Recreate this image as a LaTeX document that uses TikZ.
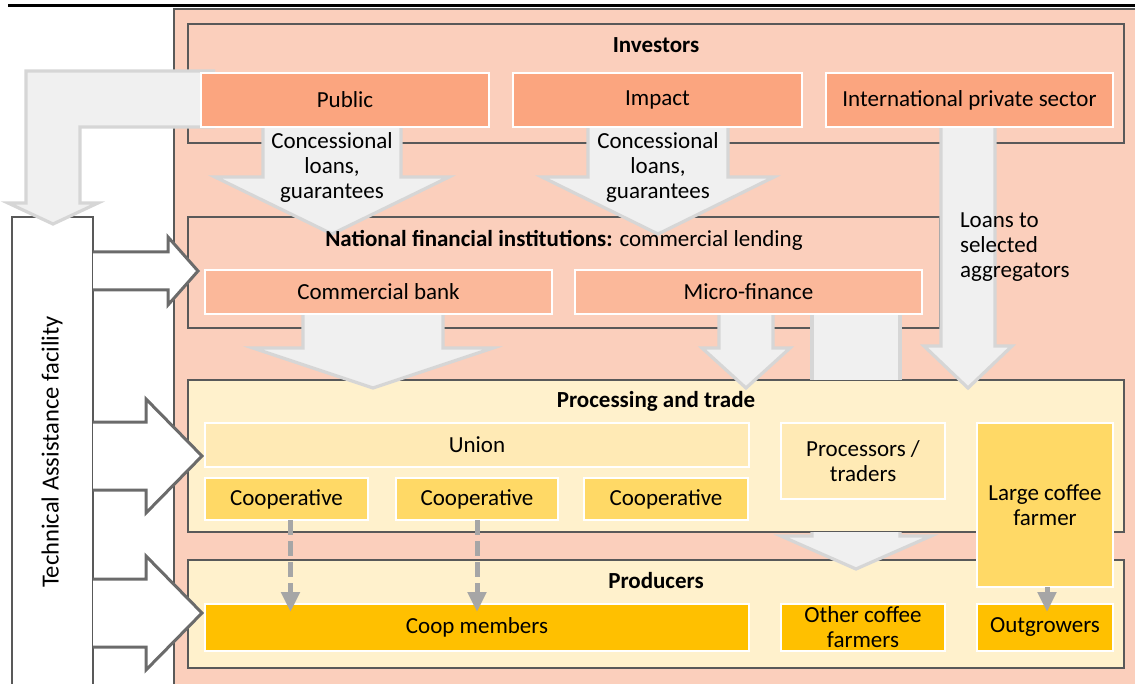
\documentclass[tikz,border=0pt]{standalone}
\usepackage{fontspec}
\setmainfont{Carlito}
\usetikzlibrary{arrows.meta}

\definecolor{PinkBg}{HTML}{FBCFBC}
\definecolor{InvFill}{HTML}{FBA57F}
\definecolor{BankFill}{HTML}{FBB89A}
\definecolor{ProcBg}{HTML}{FFF1CC}
\definecolor{UnionFill}{HTML}{FFEAB5}
\definecolor{CoopFill}{HTML}{FFD966}
\definecolor{ProdFill}{HTML}{FFC000}
\definecolor{ArrowFill}{HTML}{F0F0F0}
\definecolor{ArrowLine}{HTML}{D6D6D6}
\definecolor{FrameLine}{HTML}{595959}
\definecolor{TALine}{HTML}{6B6B6B}
\definecolor{DashGray}{HTML}{A6A6A6}

% cx, top, half shaft, wing y, half wing, tip y
\newcommand{\downblock}[6]{%
  \fill[ArrowFill] (#1-#3,#2) -- (#1-#3,#4) -- (#1-#5,#4) -- (#1,#6) -- (#1+#5,#4) -- (#1+#3,#4) -- (#1+#3,#2) -- cycle;
  \draw[blockline] (#1-#3,#2) -- (#1-#3,#4) -- (#1-#5,#4) -- (#1,#6) -- (#1+#5,#4) -- (#1+#3,#4) -- (#1+#3,#2);}
% cy, left, half shaft, base x, half wing, tip x
\newcommand{\rightblock}[6]{%
  \fill[white] (#2,#1-#3) -- (#4,#1-#3) -- (#4,#1-#5) -- (#6,#1) -- (#4,#1+#5) -- (#4,#1+#3) -- (#2,#1+#3) -- cycle;
  \draw[taline] (#2,#1-#3) -- (#4,#1-#3) -- (#4,#1-#5) -- (#6,#1) -- (#4,#1+#5) -- (#4,#1+#3) -- (#2,#1+#3);}

\begin{document}
\begin{tikzpicture}[x=0.5pt, y=-0.5pt,
  every node/.style={font=\fontsize{11.5}{12.5}\selectfont, inner sep=0pt, outer sep=0pt},
  sz/.style 2 args={minimum width=#1*0.5pt, minimum height=#2*0.5pt},
  frame/.style={draw=FrameLine, line width=0.75pt},
  inner/.style={draw=white, line width=0.6pt},
  title/.style={font=\fontsize{11.5}{12.5}\selectfont\bfseries},
  blockline/.style={draw=ArrowLine, line width=1.6pt},
  taline/.style={draw=TALine, line width=1.5pt},
  dasharr/.style={draw=DashGray, line width=2.5pt, dash pattern=on 7.5pt off 3pt,
    -{Triangle[length=10pt, width=9pt]}},
  solidarr/.style={draw=DashGray, line width=2.5pt, -{Triangle[length=10pt, width=9pt]}}]
  \useasboundingbox (0,0) rectangle (1135,684);

  % background
  \draw[fill=PinkBg, draw=FrameLine, line width=0.75pt] (174,9) rectangle (1145,695);
  \draw[line width=1.5pt] (8,6) -- (1140,6);
  \node[draw=FrameLine, line width=0.75pt, fill=white, sz={81}{480}] (ta) at (52.5,457) {};

  % frames
  \node[frame, sz={936}{119}] (inv) at (656,83.5) {};
  \node[frame, sz={752}{111}] (nfi) at (564,272.5) {};
  \node[frame, fill=ProcBg, sz={936}{152}] (proc) at (656,456) {};
  \node[frame, fill=ProcBg, sz={936}{108}] (prod) at (656,614) {};

  % wide arrows
  \fill[ArrowFill] (215,71) -- (26,71) -- (26,203) -- (8,203) -- (53,224) -- (98,203)
    -- (80,203) -- (80,127) -- (215,127) -- cycle;
  \draw[blockline] (215,71) -- (26,71) -- (26,203) -- (8,203) -- (53,224) -- (98,203)
    -- (80,203) -- (80,127) -- (215,127);
  \downblock{332}{127}{69}{177}{117}{234}
  \downblock{658}{127}{70}{177}{116}{234}
  \downblock{968}{127}{27}{346}{44}{388}
  \downblock{373}{312}{70}{348}{120}{388}
  \downblock{746}{312}{27}{348}{44}{388}
  \fill[ArrowFill] (812,310) rectangle (900,380);
  \draw[blockline] (812,380) -- (812,310) -- (900,310) -- (900,380);
  \downblock{856}{532}{44}{536}{75}{569}

  % technical assistance arrows
  \rightblock{271}{93}{19}{168}{34}{198}
  \rightblock{456}{93}{34}{146}{57}{202}
  \rightblock{613}{93}{34}{146}{57}{202}

  % investors
  \node[title] (invt) at ([yshift=-10.5pt]inv.north) {Investors};
  \node[inner, fill=InvFill, sz={288}{54}] (pub) at (345,100) {Public};
  \node[inner, fill=InvFill, sz={289}{54}] (imp) at (657.5,100) {Impact};
  \node[inner, fill=InvFill, sz={287}{54}] (intl) at (969.5,100) {International private sector};

  % national financial institutions
  \node (nfit) at ([yshift=-11.5pt]nfi.north) {\textbf{National financial institutions:} commercial lending};
  \node[inner, fill=BankFill, sz={347}{44}] (bank) at (378.5,292) {Commercial bank};
  \node[inner, fill=BankFill, sz={347}{44}] (micro) at (748.5,292) {Micro-finance};

  % processing and trade
  \node[title] (proct) at ([yshift=-10.5pt]proc.north) {Processing and trade};
  \node[inner, fill=UnionFill, sz={544}{44}] (union) at (477,445) {Union};
  \node[inner, fill=CoopFill, sz={163}{42}] (coop1) at (286.5,499) {Cooperative};
  \node[inner, fill=CoopFill, sz={162}{42}] (coop2) at (477,499) {Cooperative};
  \node[inner, fill=CoopFill, sz={164}{42}] (coop3) at (666,499) {Cooperative};
  \node[inner, fill=UnionFill, sz={164}{76}, align=center] (traders) at (863,461) {Processors /\\traders};

  % producers
  \node[title] (prodt) at ([yshift=-10.5pt]prod.north) {Producers};
  \node[inner, fill=ProdFill, sz={544}{47}] (members) at (477,627.5) {Coop members};
  \node[inner, fill=ProdFill, sz={164}{47}, align=center] (other) at (863,627.5) {Other coffee\\farmers};
  \node[inner, fill=ProdFill, sz={136}{47}] (outg) at (1045,627.5) {Outgrowers};
  \node[inner, fill=CoopFill, sz={136}{164}, align=center] (large) at (1045,505) {Large coffee\\farmer};

  % flows to producers
  \draw[dasharr] ([xshift=2pt]coop1.south) -- ([xshift=2pt, yshift=-4pt]coop1.south |- members.north);
  \draw[dasharr] (coop2.south) -- ([yshift=-4pt]coop2.south |- members.north);
  \draw[solidarr] ([xshift=1pt]large.south) -- ([xshift=1pt, yshift=-4pt]large.south |- outg.north);

  % arrow labels
  \node[align=center] (lab1) at (332,167) {Concessional\\loans,\\guarantees};
  \node[align=center] (lab2) at (658,167) {Concessional\\loans,\\guarantees};
  \node[align=left, anchor=west] (lab3) at (960,247) {Loans to\\selected\\aggregators};
  \node[rotate=90, font=\fontsize{12.3}{14}\selectfont] (tat) at (52,452) {Technical Assistance facility};
\end{tikzpicture}
\end{document}
